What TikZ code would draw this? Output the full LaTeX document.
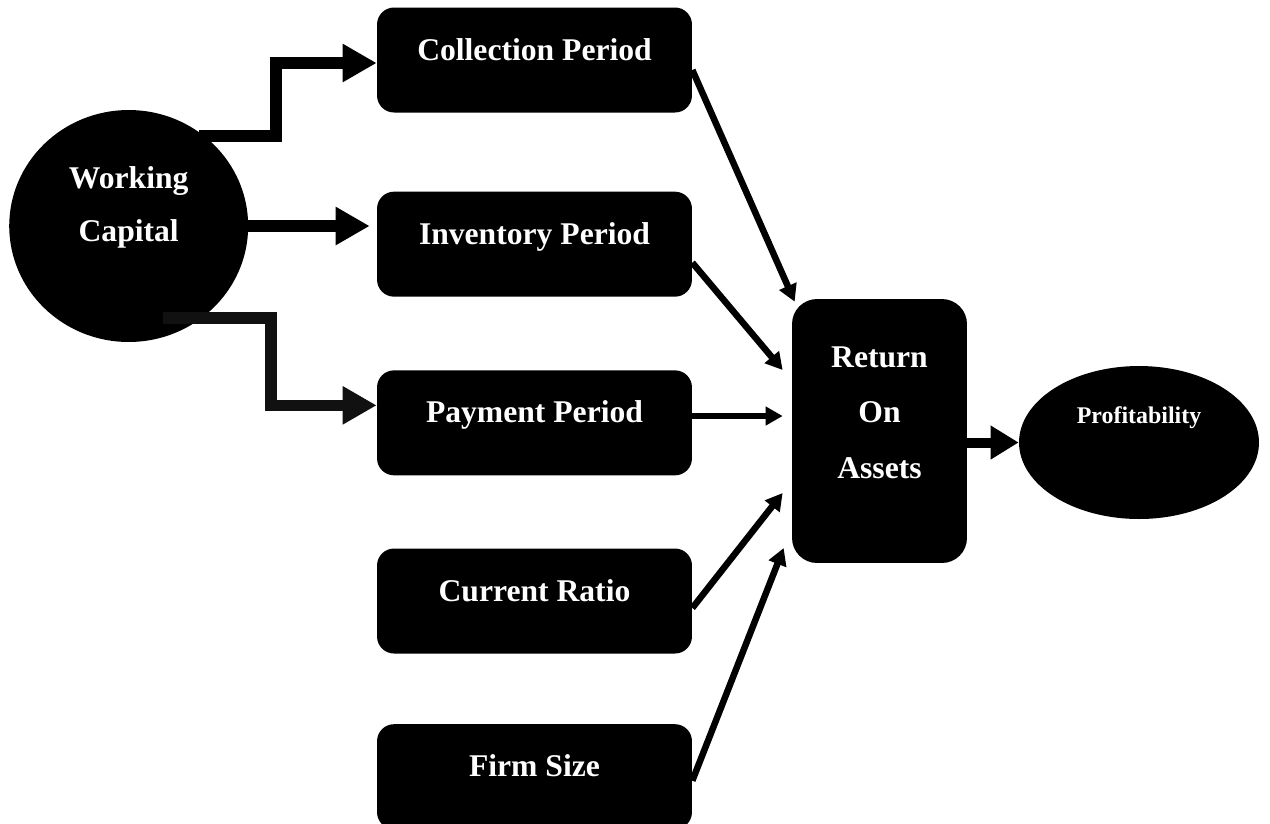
\documentclass[tikz,border=0pt]{standalone}
\usepackage{fontspec}
\setmainfont{Liberation Serif}
\usepackage{tikz}
\usetikzlibrary{shapes.geometric, arrows.meta, positioning, calc}
\definecolor{darkline}{RGB}{17, 17, 17}
% raise text inside a node without changing its box
\newcommand{\lift}[2][10.5pt]{\raisebox{#1}[\height][\depth]{#2}}

\begin{document}
\begin{tikzpicture}[
    x=0.02cm, y=-0.02cm,
    factor/.style={fill=black, rounded corners=0.34cm, minimum width=6.3cm, minimum height=2.1cm, text=white, font=\fontsize{18}{30}\selectfont\bfseries, text height=0.3em, text depth=0.3em},
    roabox/.style={fill=black, rounded corners=0.5cm, minimum width=3.5cm, minimum height=5.28cm, align=center, text=white, font=\fontsize{18}{31.7}\selectfont\bfseries},
    blob/.style={ellipse, fill=black, inner sep=0pt, text=white},
    fat/.style={line width=0.234cm, -{Triangle[length=0.68cm, width=0.72cm]}},
    link/.style={line width=0.13cm, -{Triangle[length=0.34cm, width=0.36cm]}},
    lead/.style={line width=0.2cm, -{Triangle[length=0.56cm, width=0.64cm]}}
]
    \useasboundingbox (0,0) rectangle (1270,823);

    \node[blob, minimum width=4.78cm, minimum height=4.64cm, align=center, font=\fontsize{18}{30}\selectfont\bfseries] (wc) at (128.7,226) {\lift{Working}\\\lift{Capital}};

    \node[factor] (coll) at (534.5,60) {Collection Period};
    \node[factor, below=1.57cm of coll] (inv) {Inventory Period};
    \node[factor, below=1.46cm of inv] (pay) {Payment Period};
    \node[factor, below=1.45cm of pay] (cur) {Current Ratio};
    \node[factor, below=1.4cm of cur] (firm) {Firm Size};

    \node[roabox] (roa) at (879.5,431) {\lift{Return}\\\lift{On}\\\lift{Assets}};
    \node[blob, minimum width=4.8cm, minimum height=3.06cm, font=\fontsize{13.6}{16}\selectfont\bfseries, text height=0.3em, text depth=0.3em] (prof) at (1139,442.5) {\lift[10.8pt]{Profitability}};

    % working capital feeds the three periods
    \draw[fat] ([xshift=-0.1cm]wc.50) -| ([xshift=-2.02cm, yshift=-0.06cm]coll.west) -- ([yshift=-0.06cm]coll.west);
    \draw[fat, shorten >=0.14cm] ([xshift=-0.1cm]wc.east) -- (wc.east -| inv.west);
    \draw[fat, darkline] ([xshift=0.69cm, yshift=0.48cm]wc.south) -| ([xshift=-2.11cm, yshift=0.35cm]pay.west) -- ([yshift=0.35cm]pay.west);

    % variables into ROA
    \coordinate (payin) at ([xshift=-0.18cm, yshift=0.3cm]roa.west);
    \draw[link] ([yshift=-0.2cm]coll.east) -- ([shift={(0.06cm,-0.06cm)}]roa.north west);
    \draw[link] ([yshift=-0.37cm]inv.east) -- ([xshift=-0.18cm, yshift=1.22cm]roa.west);
    \draw[link] (payin -| pay.east) -- (payin);
    \draw[link] ([yshift=-0.14cm]cur.east) -- ([xshift=-0.18cm, yshift=-1.24cm]roa.west);
    \draw[link] ([yshift=-0.08cm]firm.east) -- ([xshift=-0.16cm, yshift=-2.34cm]roa.west);

    \draw[lead] (roa.east |- prof.west) -- (prof.west);
\end{tikzpicture}
\end{document}
